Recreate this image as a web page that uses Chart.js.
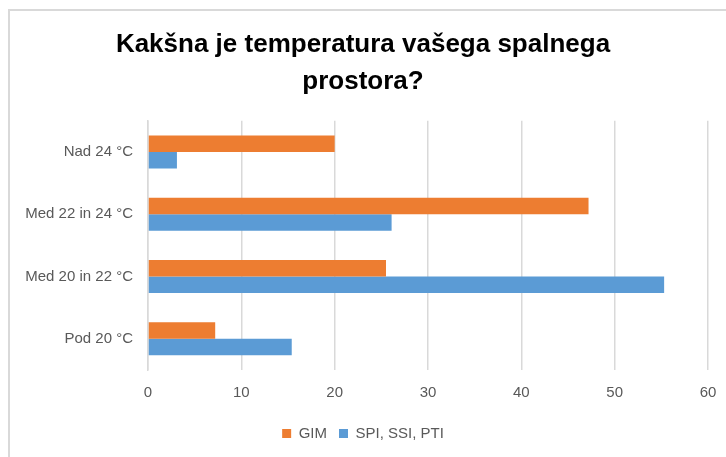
<!DOCTYPE html>
<html>
<head>
<meta charset="utf-8">
<script src="https://cdn.jsdelivr.net/npm/chart.js@4"></script>
<style>
  html, body { margin: 0; padding: 0; background: #fff; overflow: hidden; }
  #frame { position: absolute; left: 8px; top: 9px; width: 740px; height: 470px; border: 2px solid #d9d9d9; }
  #wrap { position: absolute; left: 0; top: 0; width: 726px; height: 457px; }
</style>
</head>
<body>
<div id="frame"></div>
<div id="wrap"><canvas id="tempChart" width="726" height="457"></canvas></div>
<script>
// kategorije (od zgoraj navzdol)
var categories = ['Nad 24 °C', 'Med 22 in 24 °C', 'Med 20 in 22 °C', 'Pod 20 °C'];
var gimValues = [20.0, 47.2, 25.5, 7.2];
var spiValues = [3.1, 26.1, 55.3, 15.4];
var xTicks = [0, 10, 20, 30, 40, 50, 60];
var titleLines = ['Kakšna je temperatura vašega spalnega', 'prostora?'];

var labelFont = { family: 'Liberation Sans', size: 15 };

var ctx = document.getElementById('tempChart').getContext('2d');
var chart = new Chart(ctx, {
    type: 'bar',
    data: {
        labels: categories,
        datasets: [{
            label: 'GIM',
            data: gimValues,
            backgroundColor: '#ED7D31',
            categoryPercentage: 0.53,
            barPercentage: 1.0
        }, {
            label: 'SPI, SSI, PTI',
            data: spiValues,
            backgroundColor: '#5B9BD5',
            categoryPercentage: 0.53,
            barPercentage: 1.0
        }]
    },
    options: {
        indexAxis: 'y',
        responsive: false,
        animation: false,
        layout: { padding: { left: 18, right: 18, top: 0, bottom: 6 } },
        scales: {
            x: {
                min: xTicks[0],
                max: xTicks[xTicks.length - 1],
                afterBuildTicks: function (scale) {
                    scale.ticks = xTicks.map(function (v) { return { value: v }; });
                },
                grid: { color: '#d9d9d9', lineWidth: 1.5, tickLength: 0, drawTicks: false },
                border: { display: false },
                ticks: { color: '#595959', font: labelFont, padding: 14 },
                afterFit: function (scale) {
                    scale.height = 44;
                    scale.paddingLeft = 0;
                    scale.paddingRight = 0;
                }
            },
            y: {
                grid: { display: false, drawTicks: false },
                border: { color: '#d9d9d9', width: 1.5 },
                ticks: { color: '#595959', font: labelFont, padding: 15 },
                afterFit: function (scale) { scale.width = 130; }
            }
        },
        plugins: {
            title: {
                display: true,
                text: titleLines,
                color: '#000',
                font: { family: 'Liberation Sans', size: 26, weight: 'bold', lineHeight: 1.42 },
                padding: { top: 26, bottom: 21 }
            },
            legend: {
                position: 'bottom',
                labels: {
                    color: '#595959',
                    font: labelFont,
                    boxWidth: 9,
                    boxHeight: 9,
                    padding: 12
                }
            },
            tooltip: { enabled: false }
        }
    }
});
</script>
</body>
</html>
